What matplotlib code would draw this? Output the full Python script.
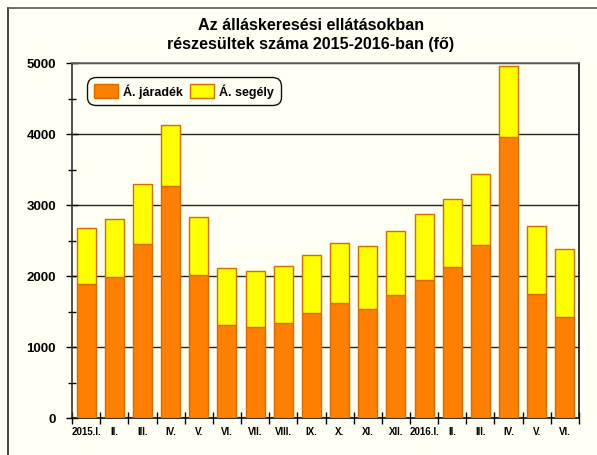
import numpy as np
import matplotlib
matplotlib.use('Agg')
import matplotlib.pyplot as plt
from matplotlib.ticker import MultipleLocator, FixedLocator
from matplotlib.lines import Line2D

# Data (persons)
months = ['2015.I.', 'II.', 'III.', 'IV.', 'V.', 'VI.', 'VII.', 'VIII.', 'IX.',
          'X.', 'XI.', 'XII.', '2016.I.', 'II.', 'III.', 'IV.', 'V.', 'VI.']
jaradek = [1887, 1980, 2448, 3268, 2014, 1310, 1282, 1338, 1474,
           1615, 1531, 1728, 1939, 2131, 2437, 3958, 1746, 1422]
osszes = [2670, 2802, 3300, 4130, 2836, 2108, 2075, 2136, 2291,
          2460, 2418, 2634, 2878, 3082, 3432, 4953, 2700, 2376]
segely = [t - j for t, j in zip(osszes, jaradek)]

bg = '#FFFFF3'
orange = '#FF8000'
yellow = '#FFFF00'
edge = '#D86A00'

plt.rcParams['font.family'] = ['Liberation Sans', 'DejaVu Sans']

fig = plt.figure(figsize=(5.97, 4.56), dpi=100, facecolor=bg)
ax = fig.add_axes([72/597, 37/456, 507/597, 355/456], facecolor=bg)

# Figure border (only top and left visible in original)
fig.add_artist(Line2D([8/597, 8/597], [0, 1 - 9/456], transform=fig.transFigure,
                      color='#222222', lw=1.2))
fig.add_artist(Line2D([8/597, 1], [1 - 9/456, 1 - 9/456], transform=fig.transFigure,
                      color='#555555', lw=1.2))

x = np.arange(len(months))
ax.bar(x, jaradek, width=0.68, color=orange, edgecolor=edge, linewidth=1,
       label='Á. járadék', zorder=3)
ax.bar(x, segely, width=0.68, bottom=jaradek, color=yellow, edgecolor=edge,
       linewidth=1, label='Á. segély', zorder=3)

ax.set_xlim(-0.5, len(months) - 0.5)
ax.set_ylim(0, 5000)

ax.yaxis.set_major_locator(MultipleLocator(1000))
ax.yaxis.set_minor_locator(MultipleLocator(500))
ax.grid(axis='y', which='major', color='#222222', lw=1, zorder=1)

ax.set_xticks(x)
ax.set_xticklabels(months, fontsize=7, fontweight='bold')
ax.xaxis.set_minor_locator(FixedLocator(np.arange(-0.5, len(months), 1.0)))
ax.tick_params(axis='x', which='major', length=0, pad=6)
ax.tick_params(axis='x', which='minor', direction='inout', length=8, width=1)
ax.tick_params(axis='y', which='major', direction='inout', length=9, width=1,
               labelsize=9.5, pad=7)
ax.tick_params(axis='y', which='minor', direction='inout', length=6, width=1)
for lab in ax.get_yticklabels():
    lab.set_fontweight('bold')

ax.spines['left'].set_color('#333333')
ax.spines['bottom'].set_color('#111111')
ax.spines['right'].set_color('#111111')
ax.spines['top'].set_color('#666666')
for s in ax.spines.values():
    s.set_linewidth(1.2)

fig.text(311/597, 1 - 35/456, 'Az álláskeresési ellátásokban\nrészesültek száma 2015-2016-ban (fő)',
         ha='center', va='center', fontsize=11.6, fontweight='bold', linespacing=1.3)

leg = ax.legend(loc='upper left', bbox_to_anchor=(15/507, 1 - 14/355), ncol=2,
                prop={'size': 9, 'weight': 'bold'}, frameon=True, fancybox=True,
                edgecolor='#111111', facecolor=bg, framealpha=1,
                handlelength=1.9, handleheight=1.4, columnspacing=0.6,
                handletextpad=0.4, borderpad=0.55, borderaxespad=0)
leg.get_frame().set_linewidth(1)
leg.get_frame().set_boxstyle('round,pad=0,rounding_size=0.7')

plt.savefig('out.png', dpi=100, facecolor=bg)
